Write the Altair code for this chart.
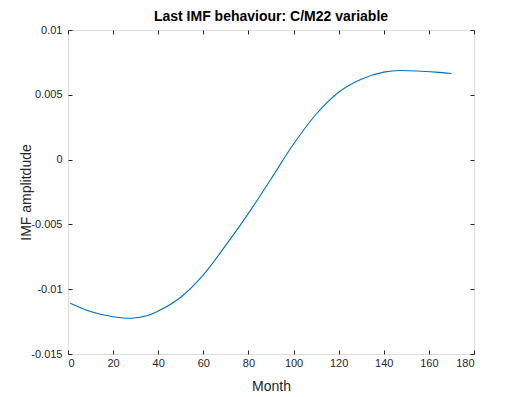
import altair as alt
import pandas as pd

months = [1, 10, 20, 28, 35, 40, 50, 60, 70, 80, 90, 100, 110, 120, 130, 140, 147, 155, 163, 170]
imf = [-0.01108, -0.01172, -0.01212, -0.01224, -0.01205, -0.01168, -0.01062, -0.00890, -0.00660,
       -0.00415, -0.00150, 0.00120, 0.00350, 0.00520, 0.00620, 0.00675, 0.00687, 0.00684, 0.00675, 0.00664]

x_ticks = [0, 20, 40, 60, 80, 100, 120, 140, 160, 180]
y_ticks = [-0.015, -0.01, -0.005, 0, 0.005, 0.01]

df = pd.DataFrame({"Month": months, "IMF": imf})

FONT = "Liberation Sans"
AX = "#262626"
xs = alt.Scale(domain=[0, 180], nice=False, zero=False)
ys = alt.Scale(domain=[-0.015, 0.01], nice=False, zero=False)

base = alt.Chart(df)

line = base.mark_line(color="#0072BD", strokeWidth=1.1, interpolate="monotone").encode(
    x=alt.X("Month:Q", scale=xs,
            axis=alt.Axis(values=x_ticks, orient="bottom", ticks=False, domain=False, grid=False,
                          labelPadding=3, labelFontSize=11, labelColor=AX, labelFont=FONT,
                          title="Month", titleFont=FONT, titleFontSize=14, titleFontWeight="normal",
                          titleColor=AX, titleY=32, titleBaseline="middle")),
    y=alt.Y("IMF:Q", scale=ys,
            axis=alt.Axis(values=y_ticks, orient="left", ticks=False, domain=False, grid=False,
                          labelPadding=6, labelFontSize=11, labelColor=AX, labelFont=FONT,
                          labelExpr="toString(datum.value)",
                          title="IMF amplitdude", titleFont=FONT, titleFontSize=14,
                          titleFontWeight="normal", titleColor=AX, titleX=-42,
                          titleBaseline="middle")),
)

def tick_axis(orient, vals):
    return alt.Axis(values=vals, orient=orient, ticks=True, tickSize=4, tickColor=AX,
                    tickWidth=1, offset=-4, labels=False, domain=False, grid=False, title=None)

inner1 = base.mark_line(strokeOpacity=0).encode(
    x=alt.X("Month:Q", scale=xs, axis=tick_axis("bottom", x_ticks)),
    y=alt.Y("IMF:Q", scale=ys, axis=tick_axis("left", y_ticks)),
)
inner2 = base.mark_line(strokeOpacity=0).encode(
    x=alt.X("Month:Q", scale=xs, axis=tick_axis("top", x_ticks)),
    y=alt.Y("IMF:Q", scale=ys, axis=tick_axis("right", y_ticks)),
)

chart = alt.layer(line, inner1, inner2).resolve_scale(x="independent", y="independent").properties(
    width=406, height=324,
    title=alt.TitleParams("Last IMF behaviour: C/M22 variable", font=FONT, fontSize=14,
                          fontWeight="bold", color="black", offset=0),
    autosize=alt.AutoSizeParams(type="none"),
    padding={"left": 60, "top": 22, "right": 48, "bottom": 43},
).configure_view(stroke=AX, strokeWidth=1).configure(background="white")

chart.save("out.html", embed_options={"renderer": "svg", "actions": False})
